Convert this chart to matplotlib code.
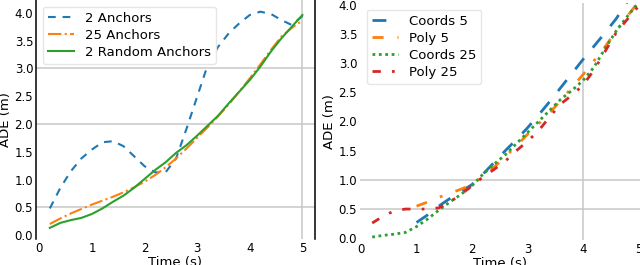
import matplotlib
matplotlib.use("Agg")
import matplotlib.pyplot as plt
import numpy as np

# --- left panel: anchors ---
t_left = [0.2, 0.4, 0.6, 0.8, 1.0, 1.2, 1.4, 1.6, 1.8, 2.0, 2.2, 2.4, 2.6,
          2.8, 3.0, 3.2, 3.4, 3.6, 3.8, 4.0, 4.2, 4.4, 4.6, 4.8, 5.0]
anchors_2 = [0.48, 0.85, 1.15, 1.38, 1.54, 1.67, 1.69, 1.60, 1.42, 1.24, 1.13, 1.13, 1.38,
             1.92, 2.49, 3.06, 3.39, 3.63, 3.81, 3.96, 4.02, 3.98, 3.87, 3.78, 3.94]
anchors_25 = [0.20, 0.30, 0.39, 0.47, 0.55, 0.62, 0.69, 0.77, 0.86, 0.96, 1.08, 1.22, 1.38,
              1.56, 1.75, 1.94, 2.14, 2.35, 2.58, 2.82, 3.07, 3.33, 3.57, 3.73, 3.86]
random_2 = [0.13, 0.22, 0.27, 0.31, 0.38, 0.48, 0.60, 0.71, 0.85, 1.01, 1.17, 1.31, 1.48,
            1.62, 1.79, 1.97, 2.15, 2.37, 2.58, 2.79, 3.03, 3.30, 3.54, 3.75, 3.96]

# --- right panel: coords vs poly ---
t_short = [1.0, 1.2, 1.4, 1.6, 1.8, 2.0, 2.2, 2.4, 2.6, 2.8, 3.0, 3.2, 3.4,
           3.6, 3.8, 4.0, 4.2, 4.4, 4.6, 4.8, 5.0]
coords_5 = [0.27, 0.40, 0.55, 0.68, 0.80, 0.92, 1.10, 1.30, 1.50, 1.69, 1.89, 2.11, 2.34,
            2.58, 2.82, 3.06, 3.29, 3.52, 3.76, 4.05, 4.30]
poly_5 = [0.55, 0.62, 0.70, 0.77, 0.84, 0.92, 1.05, 1.22, 1.40, 1.58, 1.78, 1.96, 2.15,
          2.36, 2.58, 2.80, 3.04, 3.28, 3.55, 3.80, 4.05]
t_long = t_left
coords_25 = [0.02, 0.05, 0.07, 0.10, 0.20, 0.33, 0.48, 0.62, 0.75, 0.90, 1.10, 1.27, 1.43,
             1.62, 1.81, 2.00, 2.19, 2.38, 2.53, 2.70, 2.93, 3.25, 3.55, 3.80, 4.03]
poly_25 = [0.26, 0.38, 0.47, 0.50, 0.50, 0.50, 0.52, 0.62, 0.75, 0.90, 1.05, 1.18, 1.32,
           1.50, 1.66, 1.84, 2.08, 2.30, 2.45, 2.62, 2.88, 3.20, 3.52, 3.75, 3.97]

y_ticks = [0.0, 0.5, 1.0, 1.5, 2.0, 2.5, 3.0, 3.5, 4.0]
x_ticks = [0, 1, 2, 3, 4, 5]
left_hgrid = [0.5, 2.0, 3.0]
left_vgrid = [5]
right_hgrid = [0.5, 1.0]
right_vgrid = [4]

grid_color = "#c8c8c8"


def style_axes(ax, hgrid, vgrid):
    for y in hgrid:
        ax.axhline(y, color=grid_color, linewidth=1.1, zorder=0)
    for x in vgrid:
        ax.axvline(x, color=grid_color, linewidth=1.1, zorder=0)
    ax.set_xticks(x_ticks)
    ax.set_yticks(y_ticks)
    ax.tick_params(length=0, labelsize=8.5, pad=2)
    ax.set_xlabel("Time (s)", fontsize=9.5, labelpad=1)
    ax.set_ylabel("ADE (m)", fontsize=9.5, labelpad=2)
    for side in ["top", "bottom"]:
        ax.spines[side].set_visible(False)


fig = plt.figure(figsize=(6.4, 2.65), dpi=100)

ax1 = fig.add_axes([36 / 640, 26 / 265, 279 / 640, 239 / 265])
ax1.plot(t_left, anchors_2, color="#1f77b4", linewidth=1.5, linestyle=(0, (3.7, 3.3)), label="2 Anchors")
ax1.plot(t_left, anchors_25, color="#ff7f0e", linewidth=1.5, linestyle="-.", label="25 Anchors")
ax1.plot(t_left, random_2, color="#2ca02c", linewidth=1.5, label="2 Random Anchors")
style_axes(ax1, left_hgrid, left_vgrid)
ax1.set_xlim(-0.063, 5.24)
ax1.set_ylim(-0.07, 4.23)
for side in ["left", "right"]:
    ax1.spines[side].set_color("black")
    ax1.spines[side].set_linewidth(1.1)
leg1 = ax1.legend(loc="upper left", fontsize=9.5, labelspacing=0.3, framealpha=1,
                  edgecolor="#e6e6e6", fancybox=True)

ax2 = fig.add_axes([360 / 640, 25 / 265, 280 / 640, 237 / 265])
ax2.plot(t_short, coords_5, color="#1f77b4", linewidth=2, linestyle=(0, (5, 5)), label="Coords 5")
ax2.plot(t_short, poly_5, color="#ff7f0e", linewidth=2, linestyle=(0, (4, 5, 1, 5)), label="Poly 5")
ax2.plot(t_long, coords_25, color="#2ca02c", linewidth=2, linestyle=(0, (1, 1.3)), label="Coords 25")
ax2.plot(t_long, poly_25, color="#d62728", linewidth=2, linestyle=(0, (3, 4, 1, 4)), label="Poly 25")
style_axes(ax2, right_hgrid, right_vgrid)
ax2.set_xlim(-0.02, 5.03)
ax2.set_ylim(-0.03, 4.03)
for side in ["left", "right"]:
    ax2.spines[side].set_visible(False)
ax2.legend(loc="upper left", fontsize=9.5, labelspacing=0.3, framealpha=1,
           edgecolor="#e6e6e6", fancybox=True)

fig.savefig("out.png", dpi=100)
plt.close(fig)
